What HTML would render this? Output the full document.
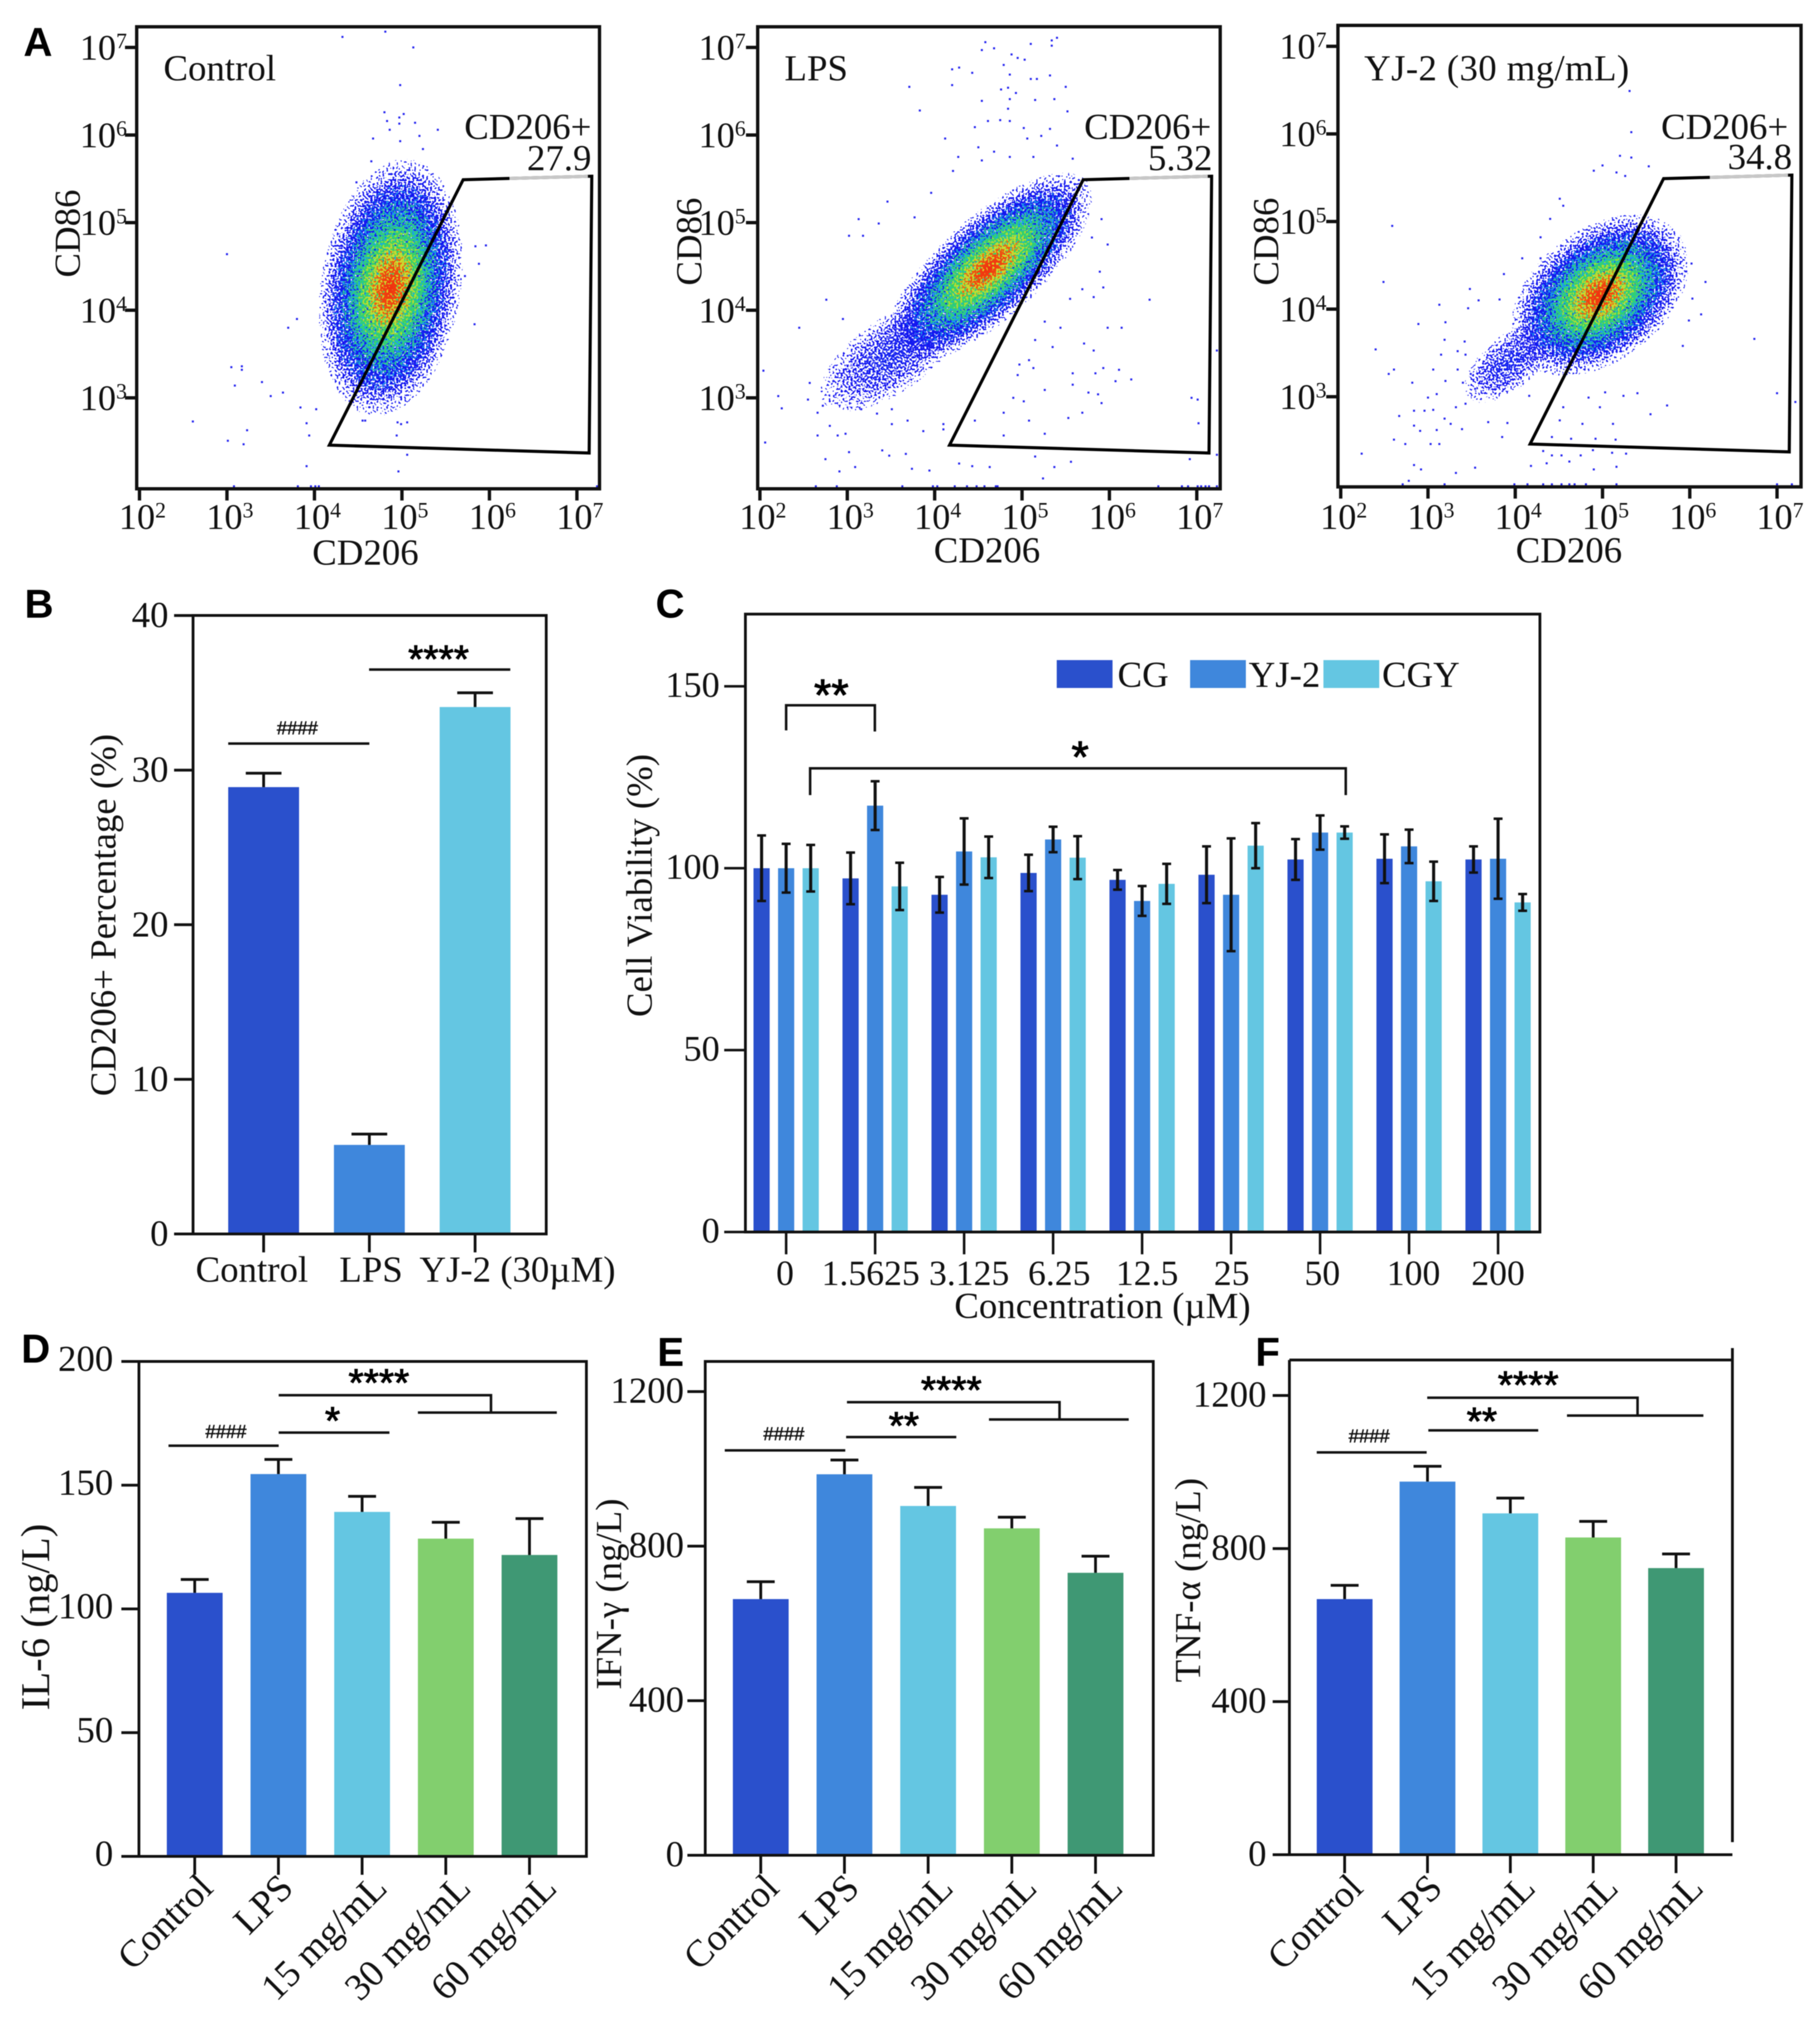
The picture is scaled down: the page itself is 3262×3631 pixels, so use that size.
<!DOCTYPE html>
<html lang="en">
<head>
<meta charset="utf-8">
<title>Flow cytometry and cytokine bar charts</title>
<style>
html,body{margin:0;padding:0;background:#fff;}
svg{display:block;filter:blur(0.8px);}
text{font-family:"Liberation Serif",serif;fill:#111;}
.letter{font-family:"Liberation Sans",sans-serif;font-weight:700;font-size:72px;fill:#000;}
.aster{font-family:"Liberation Sans",sans-serif;font-size:70px;text-anchor:middle;fill:#000;stroke:#000;stroke-width:1.5;}
.hash{font-family:"Liberation Sans",sans-serif;font-size:33px;text-anchor:middle;fill:#111;stroke:#111;stroke-width:0.8;}
.t66{font-size:66px;}
.mid{text-anchor:middle;}
.end{text-anchor:end;}
.sig{fill:none;stroke:#111;stroke-width:4.5;}
</style>
</head>
<body>
<svg id="fig" xmlns="http://www.w3.org/2000/svg" width="3262" height="3631" viewBox="0 0 3262 3631">
<defs>
<radialGradient id="fadeBlue">
<stop offset="0" stop-color="#1418f0" stop-opacity="1"/>
<stop offset="0.6" stop-color="#1418f0" stop-opacity="0.9"/>
<stop offset="0.82" stop-color="#1418f0" stop-opacity="0.5"/>
<stop offset="1" stop-color="#1418f0" stop-opacity="0.02"/>
</radialGradient>
<radialGradient id="fadeCyan">
<stop offset="0" stop-color="#18c4ec" stop-opacity="0.95"/>
<stop offset="0.5" stop-color="#18a8ec" stop-opacity="0.7"/>
<stop offset="1" stop-color="#1890ec" stop-opacity="0.05"/>
</radialGradient>
<radialGradient id="fadeGreen">
<stop offset="0" stop-color="#30d060" stop-opacity="1"/>
<stop offset="0.55" stop-color="#30d070" stop-opacity="0.8"/>
<stop offset="1" stop-color="#30d090" stop-opacity="0.05"/>
</radialGradient>
<radialGradient id="fadeYellow">
<stop offset="0" stop-color="#dcd820" stop-opacity="1"/>
<stop offset="0.5" stop-color="#c8dc30" stop-opacity="0.7"/>
<stop offset="1" stop-color="#a8dc30" stop-opacity="0.05"/>
</radialGradient>
<radialGradient id="fadeRed">
<stop offset="0" stop-color="#f03010" stop-opacity="0.95"/>
<stop offset="0.5" stop-color="#f04810" stop-opacity="0.55"/>
<stop offset="1" stop-color="#f07010" stop-opacity="0.03"/>
</radialGradient>
<radialGradient id="tailfade">
<stop offset="0" stop-color="#1424f0" stop-opacity="0.62"/>
<stop offset="0.65" stop-color="#1414f0" stop-opacity="0.4"/>
<stop offset="1" stop-color="#1414f0" stop-opacity="0.02"/>
</radialGradient>
<filter id="speckleA" x="-5%" y="-5%" width="110%" height="110%" color-interpolation-filters="sRGB">
<feTurbulence type="fractalNoise" baseFrequency="0.28" numOctaves="1" seed="3" result="n"/>
<feColorMatrix in="n" type="matrix" values="0 0 0 0 0 0 0 0 0 0 0 0 0 0 0 3 0 0 0 -1" result="na"/>
<feComposite in="SourceAlpha" in2="na" operator="arithmetic" k1="0" k2="1" k3="1" k4="-0.95" result="sum"/>
<feComponentTransfer in="sum" result="mask"><feFuncA type="linear" slope="25"/></feComponentTransfer>
<feComponentTransfer in="SourceGraphic" result="solid"><feFuncA type="linear" slope="40"/></feComponentTransfer>
<feComposite in="solid" in2="mask" operator="in"/>
</filter>
<filter id="speckleB" x="-5%" y="-5%" width="110%" height="110%" color-interpolation-filters="sRGB">
<feTurbulence type="fractalNoise" baseFrequency="0.28" numOctaves="1" seed="7" result="n"/>
<feColorMatrix in="n" type="matrix" values="0 0 0 0 0 0 0 0 0 0 0 0 0 0 0 3 0 0 0 -1" result="na"/>
<feComposite in="SourceAlpha" in2="na" operator="arithmetic" k1="0" k2="1" k3="1" k4="-0.95" result="sum"/>
<feComponentTransfer in="sum" result="mask"><feFuncA type="linear" slope="25"/></feComponentTransfer>
<feComponentTransfer in="SourceGraphic" result="solid"><feFuncA type="linear" slope="40"/></feComponentTransfer>
<feComposite in="solid" in2="mask" operator="in"/>
</filter>
<filter id="speckleC" x="-5%" y="-5%" width="110%" height="110%" color-interpolation-filters="sRGB">
<feTurbulence type="fractalNoise" baseFrequency="0.28" numOctaves="1" seed="11" result="n"/>
<feColorMatrix in="n" type="matrix" values="0 0 0 0 0 0 0 0 0 0 0 0 0 0 0 3 0 0 0 -1" result="na"/>
<feComposite in="SourceAlpha" in2="na" operator="arithmetic" k1="0" k2="1" k3="1" k4="-0.95" result="sum"/>
<feComponentTransfer in="sum" result="mask"><feFuncA type="linear" slope="25"/></feComponentTransfer>
<feComponentTransfer in="SourceGraphic" result="solid"><feFuncA type="linear" slope="40"/></feComponentTransfer>
<feComposite in="solid" in2="mask" operator="in"/>
</filter>
<filter id="speckleD" x="-5%" y="-5%" width="110%" height="110%" color-interpolation-filters="sRGB">
<feTurbulence type="fractalNoise" baseFrequency="0.28" numOctaves="1" seed="17" result="n"/>
<feColorMatrix in="n" type="matrix" values="0 0 0 0 0 0 0 0 0 0 0 0 0 0 0 3 0 0 0 -1" result="na"/>
<feComposite in="SourceAlpha" in2="na" operator="arithmetic" k1="0" k2="1" k3="1" k4="-0.95" result="sum"/>
<feComponentTransfer in="sum" result="mask"><feFuncA type="linear" slope="25"/></feComponentTransfer>
<feComponentTransfer in="SourceGraphic" result="solid"><feFuncA type="linear" slope="40"/></feComponentTransfer>
<feComposite in="solid" in2="mask" operator="in"/>
</filter>
<filter id="speckleE" x="-5%" y="-5%" width="110%" height="110%" color-interpolation-filters="sRGB">
<feTurbulence type="fractalNoise" baseFrequency="0.28" numOctaves="1" seed="23" result="n"/>
<feColorMatrix in="n" type="matrix" values="0 0 0 0 0 0 0 0 0 0 0 0 0 0 0 3 0 0 0 -1" result="na"/>
<feComposite in="SourceAlpha" in2="na" operator="arithmetic" k1="0" k2="1" k3="1" k4="-0.95" result="sum"/>
<feComponentTransfer in="sum" result="mask"><feFuncA type="linear" slope="25"/></feComponentTransfer>
<feComponentTransfer in="SourceGraphic" result="solid"><feFuncA type="linear" slope="40"/></feComponentTransfer>
<feComposite in="solid" in2="mask" operator="in"/>
</filter>
</defs>

<g id="layer-marks"></g>

<!-- Panel letters -->
<text class="letter" x="42" y="100">A</text>
<text class="letter" x="44" y="1107">B</text>
<text class="letter" x="1175" y="1107">C</text>
<text class="letter" x="38" y="2442">D</text>
<text class="letter" x="1178" y="2448">E</text>
<text class="letter" x="2250" y="2448">F</text>

<!-- Panel A text -->
<text class="t66" x="293" y="144">Control</text>
<text class="t66 end" x="1060" y="249">CD206+</text>
<text class="t66 end" x="1060" y="305">27.9</text>
<text class="t66 mid" x="655" y="1012">CD206</text>
<text class="t66 mid" transform="translate(143,418.5) rotate(-90)">CD86</text>

<text class="t66" x="1406" y="144">LPS</text>
<text class="t66 end" x="2171" y="249">CD206+</text>
<text class="t66 end" x="2173" y="305">5.32</text>
<text class="t66 mid" x="1769" y="1008">CD206</text>
<text class="t66 mid" transform="translate(1257,433) rotate(-90)">CD86</text>

<text class="t66" x="2445" y="144" textLength="475" lengthAdjust="spacing">YJ-2 (30 mg/mL)</text>
<text class="t66 end" x="3205" y="249">CD206+</text>
<text class="t66 end" x="3212" y="303">34.8</text>
<text class="t66 mid" x="2812" y="1008">CD206</text>
<text class="t66 mid" transform="translate(2291,433) rotate(-90)">CD86</text>

<!-- Panel B annotation -->
<text class="t66 mid" transform="translate(207,1640) rotate(-90)">CD206+ Percentage (%)</text>
<path class="sig" d="M661.5 1200H914.6"/>
<text class="aster" x="786" y="1205">****</text>
<path class="sig" d="M409 1332.6H662"/>
<text class="hash" x="533" y="1316">####</text>

<!-- Panel C annotation -->
<text class="t66 mid" transform="translate(1168,1587) rotate(-90)">Cell Viability (%)</text>
<text class="t66 mid" x="1976" y="2362">Concentration (µM)</text>
<path class="sig" d="M1409 1309V1264H1568V1311"/>
<text class="aster" x="1490" y="1273" style="font-size:80px">**</text>
<path class="sig" d="M1452 1425V1377H2412V1425"/>
<text class="aster" x="1936" y="1384" style="font-size:80px">*</text>
<rect x="1894" y="1183" width="100" height="50" fill="#2a50cc"/>
<text class="t66" x="2003" y="1231">CG</text>
<rect x="2133" y="1183" width="100" height="50" fill="#3f87dc"/>
<text class="t66" x="2238" y="1231">YJ-2</text>
<rect x="2372" y="1183" width="100" height="50" fill="#64c6e2"/>
<text class="t66" x="2477" y="1231">CGY</text>

<!-- Panel D annotation -->
<text class="mid" font-size="73" transform="translate(88,2898) rotate(-90)">IL-6 (ng/L)</text>
<path class="sig" d="M499.5 2500.5H880V2531.6M749 2531.6H998"/>
<text class="aster" x="679" y="2502">****</text>
<path class="sig" d="M499.5 2567.5H698"/>
<text class="aster" x="596" y="2570">*</text>
<path class="sig" d="M302 2591H499.5"/>
<text class="hash" x="405" y="2577">####</text>

<!-- Panel E annotation -->
<text class="t66 mid" transform="translate(1113,2857) rotate(-90)">IFN-γ (ng/L)</text>
<path class="sig" d="M1518 2513H1899V2544M1772.5 2544H2023"/>
<text class="aster" x="1705" y="2515">****</text>
<path class="sig" d="M1516.5 2575.5H1714"/>
<text class="aster" x="1620" y="2579">**</text>
<path class="sig" d="M1299 2599.4H1515"/>
<text class="hash" x="1405" y="2581">####</text>

<!-- Panel F annotation -->
<text class="t66 mid" transform="translate(2151,2832) rotate(-90)">TNF-α (ng/L)</text>
<path class="sig" d="M2558 2505H2935V2537M2808.5 2537H3053"/>
<text class="aster" x="2739" y="2506">****</text>
<path class="sig" d="M2560 2563.5H2757"/>
<text class="aster" x="2656" y="2571">**</text>
<path class="sig" d="M2360 2603H2557"/>
<text class="hash" x="2454" y="2585">####</text>
</svg>

<script>
/* ---------- Panel A data: flow cytometry, values are log10 of fluorescence ---------- */
const flowXTicks = [2, 3, 4, 5, 6, 7];
const flowYTicks = [3, 4, 5, 6, 7];
const gateVertices = [[5.70, 5.49], [7.17, 5.53], [7.14, 2.37], [4.17, 2.46]];

/* density clouds: [centre log x, centre log y, major radius, minor radius, axis angle] */
const controlClouds = [[4.87, 4.26, 1.48, 0.8, -81]];
const controlTails = [];
const lpsClouds = [[4.62, 4.48, 1.5, 0.58, -42]];
const lpsTails = [[3.51, 3.49, 0.95, 0.42, -35]];
const yj2Clouds = [[4.97, 4.16, 1.15, 0.75, -38]];
const yj2Tails = [[3.93, 3.39, 0.62, 0.3, -40]];

const controlEvents = [[4.32,7.12],[4.81,7.18],[5.13,7.00],[4.98,6.57],[4.80,6.26],[5.02,6.24],[4.97,6.20],[4.83,6.16],[4.97,6.13],[5.15,6.14],[4.86,6.06],[5.41,6.06],[4.67,5.96],[4.98,5.93],[5.20,5.99],[5.24,5.84],[4.65,5.70],[4.48,5.46],[3.00,4.64],[5.96,4.74],[5.84,4.73],[5.88,4.53],[5.72,4.39],[5.83,3.84],[3.70,3.80],[3.80,3.90],[3.05,3.35],[3.17,3.36],[3.17,3.32],[3.40,3.18],[3.09,3.14],[3.50,3.02],[3.64,3.06],[3.84,2.89],[4.02,2.87],[2.61,2.73],[3.23,2.63],[3.01,2.51],[3.19,2.47],[3.91,2.71],[3.94,2.57],[3.91,2.22],[4.55,2.74],[4.58,2.74],[4.95,2.72],[4.99,2.70],[5.06,2.72],[4.94,2.57],[5.06,2.35],[4.96,2.16],[3.08,1.99],[3.81,1.99],[3.96,1.99],[4.01,1.99],[4.05,1.99],[7.23,1.99]];

const lpsEvents = [[4.58,7.06],[4.54,6.97],[4.68,6.99],[5.10,7.04],[5.34,7.08],[5.40,7.11],[5.34,7.02],[4.88,6.92],[4.95,6.88],[5.03,6.86],[4.20,6.75],[4.28,6.77],[4.43,6.71],[4.79,6.80],[4.86,6.69],[5.10,6.64],[5.17,6.64],[5.32,6.68],[4.20,6.57],[3.71,6.55],[5.50,6.55],[4.76,6.52],[4.84,6.54],[4.86,6.41],[4.93,6.48],[5.15,6.40],[5.37,6.41],[4.54,6.39],[4.84,6.30],[3.83,6.28],[5.52,6.27],[4.61,6.16],[4.75,6.17],[4.86,6.16],[5.02,6.08],[5.32,6.07],[4.46,6.09],[4.12,5.96],[5.06,5.96],[5.22,5.99],[5.40,5.88],[4.50,5.86],[4.68,5.81],[4.86,5.75],[5.13,5.75],[5.58,5.73],[4.27,5.75],[4.21,5.59],[4.54,5.71],[3.96,5.34],[3.46,5.24],[3.13,5.04],[3.36,4.99],[3.02,4.85],[3.18,4.85],[3.77,5.06],[5.91,5.04],[5.80,4.83],[5.98,4.75],[5.89,4.44],[5.93,4.26],[5.82,4.15],[6.46,4.12],[5.98,3.80],[6.14,3.80],[5.71,3.62],[5.82,3.54],[7.23,3.54],[2.76,4.12],[2.95,3.90],[2.45,3.80],[2.04,3.31],[2.21,3.02],[2.25,2.88],[2.06,2.49],[2.57,3.17],[2.55,2.98],[2.72,2.91],[2.84,3.19],[2.66,2.83],[2.80,2.68],[2.66,2.57],[2.89,2.57],[2.75,2.30],[2.91,2.16],[3.02,2.38],[3.09,2.21],[2.98,2.59],[3.16,2.87],[3.34,2.82],[3.51,2.87],[3.69,2.74],[3.51,2.70],[3.40,2.40],[3.67,2.36],[3.48,2.34],[3.74,2.19],[3.94,2.17],[3.87,2.62],[4.10,2.70],[4.10,2.64],[4.28,2.25],[4.43,2.22],[4.63,2.21],[4.46,2.74],[4.79,2.57],[4.79,2.83],[5.08,2.74],[5.26,2.59],[5.24,2.08],[5.37,2.21],[5.56,2.27],[5.15,2.33],[4.90,3.00],[5.02,2.96],[5.26,3.09],[5.58,3.15],[5.76,3.06],[5.87,3.04],[5.84,3.28],[5.93,3.34],[6.11,3.32],[6.25,3.21],[6.07,3.19],[5.69,2.83],[5.53,2.77],[5.91,2.94],[6.94,3.00],[7.01,2.98],[7.02,2.71],[7.23,2.35],[6.92,2.30],[2.64,1.99],[2.88,1.99],[3.63,1.99],[3.98,1.99],[4.03,1.99],[4.23,1.99],[4.37,1.99],[4.48,1.99],[4.57,1.99],[4.70,1.99],[4.72,1.99],[6.56,1.99],[6.83,1.99],[6.90,1.99],[7.01,1.99],[7.05,1.99],[7.10,1.99],[7.14,1.99],[7.23,1.99],[4.97,3.38],[5.08,3.43],[5.13,3.34],[4.95,3.26],[5.35,3.58],[5.44,3.80],[5.15,3.66],[5.26,3.87],[5.55,4.13],[5.69,4.24],[5.58,3.28]];

const yj2Events = [[5.31,6.49],[5.33,6.02],[5.20,5.75],[5.33,5.73],[5.53,5.63],[5.00,5.64],[4.90,5.58],[5.16,5.56],[5.26,5.52],[2.59,4.95],[2.49,4.31],[2.40,3.54],[4.51,5.26],[4.55,5.18],[4.40,5.03],[4.29,4.82],[4.08,4.58],[4.29,4.58],[3.87,4.40],[3.48,4.23],[3.58,4.10],[3.46,4.01],[3.13,4.05],[3.20,3.85],[2.89,3.83],[3.82,4.11],[6.18,4.31],[6.02,4.52],[5.96,4.43],[6.03,4.12],[6.13,3.94],[5.99,3.87],[5.92,3.58],[6.74,3.66],[7.00,3.04],[7.21,2.94],[5.74,2.90],[3.19,3.65],[3.34,3.52],[3.43,3.48],[3.42,3.63],[3.15,3.48],[3.06,3.31],[2.61,3.31],[2.55,3.26],[2.82,3.16],[3.20,3.18],[3.34,3.31],[3.40,3.16],[3.54,3.09],[3.49,3.26],[3.10,3.03],[3.00,2.99],[2.67,2.78],[2.84,2.84],[2.96,2.84],[3.06,2.85],[3.32,2.88],[3.43,2.92],[3.19,2.75],[3.26,2.69],[2.84,2.67],[2.91,2.61],[3.10,2.62],[3.39,2.63],[2.61,2.51],[2.74,2.46],[3.03,2.46],[3.13,2.46],[2.24,2.35],[2.84,2.22],[2.92,2.17],[3.32,2.13],[3.54,2.19],[2.78,2.04],[3.69,2.71],[3.91,2.70],[3.85,2.54],[4.16,3.01],[4.55,2.88],[4.51,2.73],[4.77,2.69],[4.84,2.99],[4.97,2.88],[5.12,2.69],[5.24,3.01],[5.40,3.04],[5.55,2.80],[5.03,3.05],[4.42,2.54],[4.64,2.52],[4.92,2.52],[5.15,2.51],[4.32,2.38],[4.42,2.33],[4.53,2.33],[4.75,2.33],[4.89,2.39],[5.11,2.36],[5.27,2.35],[4.18,2.21],[4.36,2.24],[4.62,2.26],[4.90,2.17],[5.16,2.20],[2.71,2.00],[3.19,2.00],[3.99,2.00],[4.14,2.00],[4.32,2.00],[4.42,2.00],[4.53,2.00],[4.62,2.00],[4.68,2.00],[4.81,2.00],[5.16,2.00],[7.00,2.00],[7.17,2.00]];

/* ---------- Panel B data ---------- */
const bCategories = ['Control', 'LPS', 'YJ-2 (30µM)'];
const bValues = [28.9, 5.76, 34.08];
const bErrors = [0.9, 0.7, 0.92];
const bTicks = [0, 10, 20, 30, 40];

/* ---------- Panel C data ---------- */
const cCategories = ['0', '1.5625', '3.125', '6.25', '12.5', '25', '50', '100', '200'];
const cgValues = [100, 97.2, 92.7, 98.7, 96.8, 98.2, 102.4, 102.6, 102.4];
const cgErrors = [9, 7.1, 4.9, 5, 2.7, 7.8, 5.6, 6.7, 3.6];
const yjValues = [100, 117.2, 104.6, 107.9, 91, 92.7, 109.8, 106, 102.6];
const yjErrors = [6.7, 6.7, 9.1, 3.5, 4.1, 15.5, 4.7, 4.6, 11];
const cgyValues = [100, 95, 103, 102.9, 95.7, 106.2, 109.8, 96.4, 90.6];
const cgyErrors = [6.4, 6.5, 5.7, 5.9, 5.5, 6.2, 1.7, 5.4, 2.3];
const cTicks = [0, 50, 100, 150];

/* ---------- Panels D, E, F data ---------- */
const doseCategories = ['Control', 'LPS', '15 mg/mL', '30 mg/mL', '60 mg/mL'];
const il6Values = [106.5, 154.5, 139.2, 128.4, 121.8];
const il6Errors = [5.4, 5.9, 6.3, 6.6, 14.7];
const il6Ticks = [0, 50, 100, 150, 200];
const ifnValues = [663, 986, 904, 846, 731];
const ifnErrors = [45, 37, 48, 29, 43];
const ifnTicks = [0, 400, 800, 1200];
const tnfValues = [668, 975, 892, 829, 749];
const tnfErrors = [36, 40, 40, 42, 37];
const tnfTicks = [0, 400, 800, 1200];

/* ---------- drawing ---------- */
const NS = 'http://www.w3.org/2000/svg';
const root = document.getElementById('layer-marks');
const BLUE = '#2a50cc', MID = '#3f87dc', SKY = '#64c6e2', GREEN = '#82cf6e', TEAL = '#3f9874';

function mk(tag, attrs, parent) {
  const el = document.createElementNS(NS, tag);
  for (const k in attrs) el.setAttribute(k, attrs[k]);
  (parent || root).appendChild(el);
  return el;
}
function seg(x1, y1, x2, y2, w, parent, color) {
  return mk('line', {x1: x1, y1: y1, x2: x2, y2: y2, stroke: color || '#111', 'stroke-width': w}, parent);
}

function drawFlow(name, L, R, T, B, x2, xStep, y3, yStep, yLabelX, xLabelY, clouds, tails, events) {
  const fx = d => x2 + (d - 2) * xStep;
  const fy = d => y3 - (d - 3) * yStep;
  const g = mk('g', {});
  
  

  const layerFills = ['url(#fadeBlue)', 'url(#fadeCyan)', 'url(#fadeGreen)', 'url(#fadeYellow)', 'url(#fadeRed)'];
  const layerFilters = ['url(#speckleA)', 'url(#speckleB)', 'url(#speckleC)', 'url(#speckleD)', 'url(#speckleE)'];
  const layerScales = [1, 0.8, 0.68, 0.46, 0.31];

  tails.forEach(c => {
    const wrap = mk('g', {filter: 'url(#speckleB)'}, g);
    
    
    const cx = fx(c[0]), cy = fy(c[1]);
    mk('ellipse', {cx: cx, cy: cy, rx: c[2] * xStep, ry: c[3] * yStep, fill: 'url(#tailfade)',
      transform: 'rotate(' + c[4] + ' ' + cx + ' ' + cy + ')'}, wrap);
  });
  clouds.forEach(c => {
    const cx = fx(c[0]), cy = fy(c[1]);
    layerFills.forEach((fill, i) => {
      const wrap = mk('g', {filter: layerFilters[i]}, g);
      
      
      mk('ellipse', {cx: cx, cy: cy, rx: c[2] * xStep * layerScales[i], ry: c[3] * yStep * layerScales[i], fill: fill,
        transform: 'rotate(' + c[4] + ' ' + cx + ' ' + cy + ')'}, wrap);
    });
  });

  events.forEach(p => {
    const r = mk('rect', {x: fx(p[0]) - 1.8, y: fy(p[1]) - 1.8, width: 3.6, height: 3.6, fill: '#2222f0'}, g);
    
    
  });

  const pts = gateVertices.map(v => fx(v[0]) + ',' + fy(v[1])).join(' ');
  const gate = mk('polygon', {points: pts, fill: 'none', stroke: '#000', 'stroke-width': 5.5, 'stroke-linejoin': 'miter'}, g);
  
  
  const a = gateVertices[0], b = gateVertices[1];
  const gx = t => fx(a[0] + (b[0] - a[0]) * t), gy = t => fy(a[1] + (b[1] - a[1]) * t);
  const fade = seg(gx(0.36), gy(0.36), gx(0.97), gy(0.97), 5.5, g, '#c8c8c8');
  
  

  const frame = mk('rect', {x: L, y: T, width: R - L, height: B - T, fill: 'none', stroke: '#111', 'stroke-width': 6}, g);
  
  

  flowXTicks.forEach(d => {
    const t = seg(fx(d), B, fx(d), B + 21, 6, g);
    
    
    const lab = mk('text', {x: fx(d) - 37, y: xLabelY, 'font-size': 65}, g);
    
    
    lab.textContent = '10';
    const sup = mk('tspan', {dy: -21, 'font-size': 39}, lab);
    sup.textContent = String(d);
  });
  flowYTicks.forEach(d => {
    const t = seg(L - 21, fy(d), L, fy(d), 6, g);
    
    
    const lab = mk('text', {x: yLabelX, y: fy(d) + 22, 'font-size': 65}, g);
    
    
    lab.textContent = '10';
    const sup = mk('tspan', {dy: -21, 'font-size': 39}, lab);
    sup.textContent = String(d);
  });
}

drawFlow('control', 245, 1074.5, 48, 876, 250, 156.8, 713, 157, 143, 948, controlClouds, controlTails, controlEvents);
drawFlow('lps', 1358, 2187, 48, 876, 1362, 156.6, 713, 157, 1252, 948, lpsClouds, lpsTails, lpsEvents);
drawFlow('yj2', 2398, 3228, 45.5, 872.6, 2403, 156.4, 711, 157, 2293, 948, yj2Clouds, yj2Tails, yj2Events);

/* Generic vertical-bar panel with upper error bars */
function drawBars(name, o, cats, values, errors, ticks, colors) {
  const g = mk('g', {});
  
  
  const fy = v => o.y0 - v * o.pxPerUnit;
  const fx = i => o.x0 + i * o.step;

  values.forEach((v, i) => {
    const cx = fx(i);
    const r = mk('rect', {x: cx - o.barW / 2, y: fy(v), width: o.barW, height: o.y0 - fy(v), fill: colors[i]}, g);
    
    
    const stem = seg(cx, fy(v), cx, fy(v + errors[i]), 5, g);
    
    
    const cap = seg(cx - o.cap, fy(v + errors[i]), cx + o.cap, fy(v + errors[i]), 5, g);
    
    
    const t = seg(cx, o.y0, cx, o.y0 + o.xTick, 5, g);
    
    
    const lx = cx + o.labelDx[i];
    const lab = mk('text', o.rotated
      ? {x: lx, y: o.labelY, 'font-size': 68, 'text-anchor': 'end', transform: 'rotate(-45 ' + lx + ' ' + o.labelY + ')'}
      : {x: lx, y: o.labelY, 'font-size': 66, 'text-anchor': 'middle'}, g);
    
    
    lab.textContent = cats[i];
  });

  ticks.forEach(v => {
    const t = seg(o.tickLeft, fy(v), o.L, fy(v), 5, g);
    
    
    const lab = mk('text', {x: o.yLabelRight, y: fy(v) + o.yLabelDy, 'font-size': 66, 'text-anchor': 'end'}, g);
    
    
    lab.textContent = String(v);
  });

  if (o.openFrame) {
    const top = seg(o.L, o.T, o.R, o.T, 5, g);
    
    
    const left = seg(o.L, o.T, o.L, o.y0, 5, g);
    
    
    const base = seg(o.L, o.y0, o.R, o.y0, 5, g);
    
    
    const right = seg(o.R, 2416, o.R, 3301.5, 5, g);
    
    
  } else {
    const frame = mk('rect', {x: o.L, y: o.T, width: o.R - o.L, height: o.y0 - o.T, fill: 'none', stroke: '#111', 'stroke-width': 5}, g);
    
    
  }
}

const doseColors = [BLUE, MID, SKY, GREEN, TEAL];
const doseLabelDx = [36, 30, 48, 48, 52];

drawBars('percentage', {L: 346, R: 979, T: 1103, y0: 2211.5, pxPerUnit: 27.71, x0: 472.5, step: 189.5, barW: 127,
  cap: 32, xTick: 33, tickLeft: 312, yLabelRight: 302, yLabelDy: 21, labelY: 2297, labelDx: [-21, 3, 76]},
  bCategories, bValues, bErrors, bTicks, [BLUE, MID, SKY]);

drawBars('il6', {L: 249, R: 1051, T: 2440, y0: 3327, pxPerUnit: 4.435, x0: 349, step: 150, barW: 100, cap: 25,
  xTick: 33, tickLeft: 217.5, yLabelRight: 203, yLabelDy: 17, labelY: 3387, rotated: true, labelDx: doseLabelDx},
  doseCategories, il6Values, il6Errors, il6Ticks, doseColors);

drawBars('ifn', {L: 1264, R: 2067, T: 2440, y0: 3325, pxPerUnit: 0.6925, x0: 1363.5, step: 150, barW: 100, cap: 25,
  xTick: 33, tickLeft: 1232, yLabelRight: 1226, yLabelDy: 20, labelY: 3387, rotated: true, labelDx: doseLabelDx},
  doseCategories, ifnValues, ifnErrors, ifnTicks, doseColors);

drawBars('tnf', {L: 2311, R: 3105, T: 2437.4, y0: 3324, pxPerUnit: 0.6858, x0: 2410, step: 148.5, barW: 100, cap: 25,
  xTick: 33, tickLeft: 2281, yLabelRight: 2270, yLabelDy: 20, labelY: 3387, rotated: true, openFrame: true, labelDx: doseLabelDx},
  doseCategories, tnfValues, tnfErrors, tnfTicks, doseColors);

/* Panel C grouped bars */
(function () {
  const L = 1336, R = 2760, T = 1100.6, y0 = 2208, pxPerUnit = 6.52, x0 = 1409, step = 159.5, off = 44, barW = 29;
  const fx = i => x0 + i * step;
  const fy = v => y0 - v * pxPerUnit;
  const g = mk('g', {});
  
  
  const series = [[cgValues, cgErrors, BLUE, -off, 'cg'], [yjValues, yjErrors, MID, 0, 'yj2'], [cgyValues, cgyErrors, SKY, off, 'cgy']];
  series.forEach(s => {
    s[0].forEach((v, i) => {
      const cx = fx(i) + s[3];
      const r = mk('rect', {x: cx - barW / 2, y: fy(v), width: barW, height: y0 - fy(v), fill: s[2]}, g);
      
      
      const e = s[1][i];
      const stem = seg(cx, fy(v + e), cx, fy(v - e), 5.5, g);
      
      
      const c1 = seg(cx - 8, fy(v + e), cx + 8, fy(v + e), 4.5, g);
      
      
      const c2 = seg(cx - 8, fy(v - e), cx + 8, fy(v - e), 4.5, g);
      
      
    });
  });
  const nudge = [-2, -8, 9, 11, 9, 1, 4, 8, 0];
  cCategories.forEach((c, i) => {
    const t = seg(fx(i), y0, fx(i), y0 + 40, 4.5, g);
    
    
    const lab = mk('text', {x: fx(i) + nudge[i], y: 2303, 'font-size': 64, 'text-anchor': 'middle'}, g);
    
    
    lab.textContent = c;
  });
  cTicks.forEach(v => {
    const t = seg(1298, fy(v), L, fy(v), 4.5, g);
    
    
    const lab = mk('text', {x: 1290, y: fy(v) + 19, 'font-size': 65, 'text-anchor': 'end'}, g);
    
    
    lab.textContent = String(v);
  });
  const frame = mk('rect', {x: L, y: T, width: R - L, height: y0 - T, fill: 'none', stroke: '#111', 'stroke-width': 5}, g);
  
  
})();
</script>
</body>
</html>
